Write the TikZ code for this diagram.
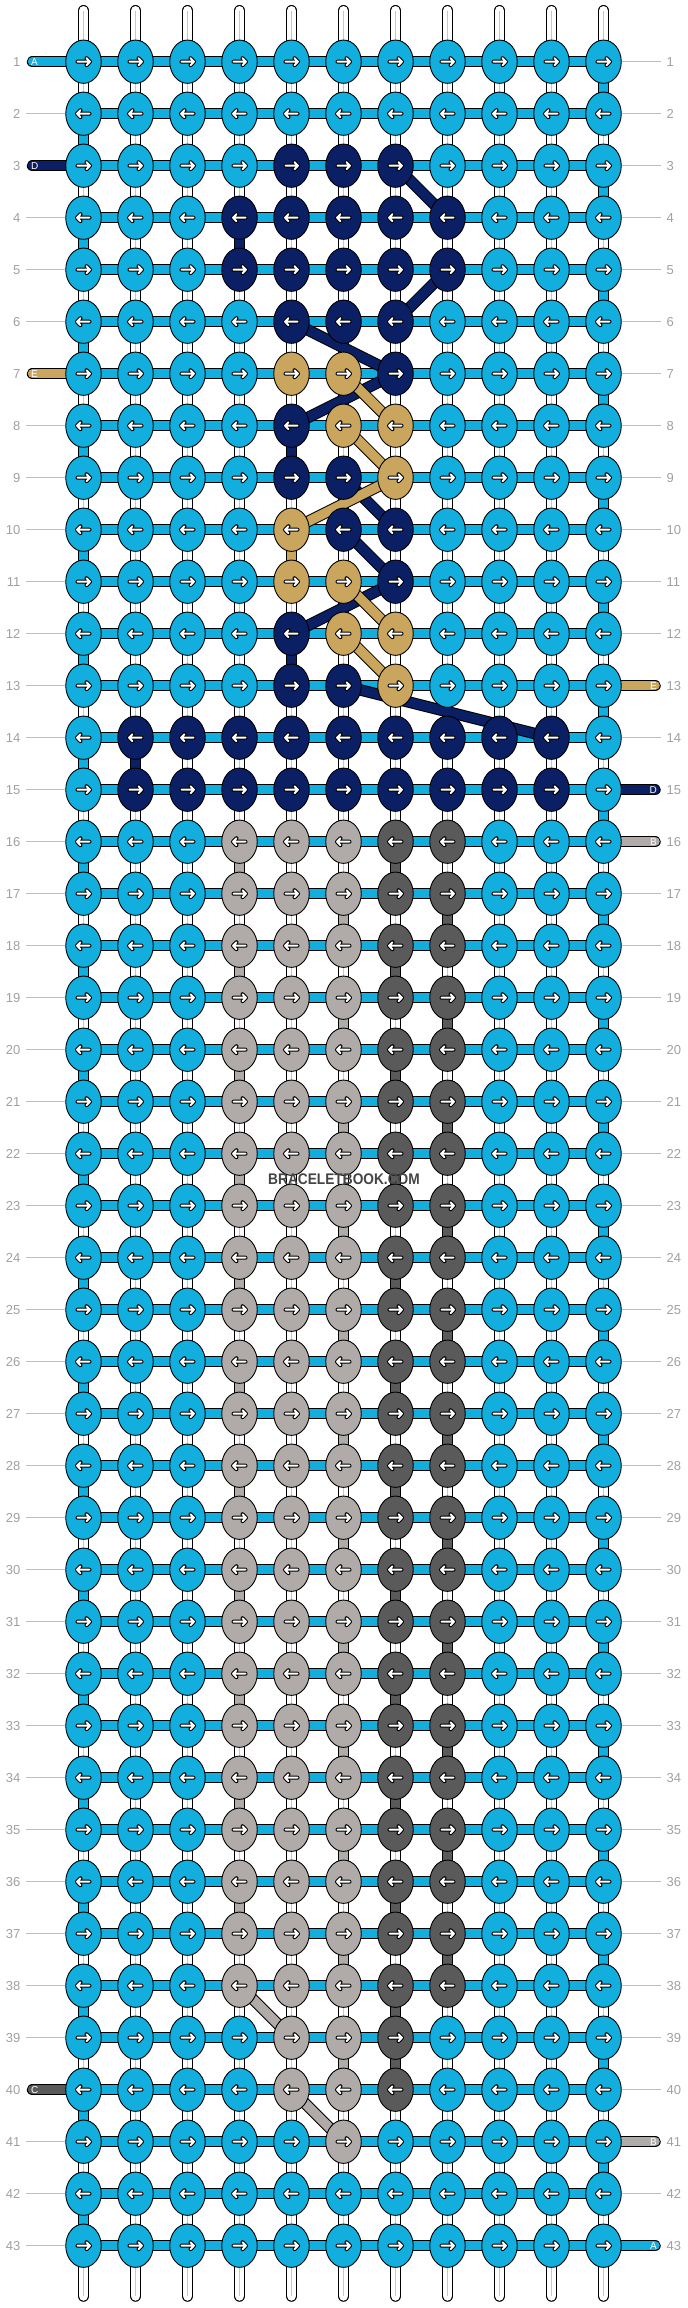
\documentclass[tikz,border=0pt]{standalone}
\usepackage{fontspec}
\setmainfont{Liberation Sans}
\usetikzlibrary{shapes.geometric,backgrounds}

\definecolor{colA}{RGB}{18,174,221}
\definecolor{colB}{RGB}{176,170,168}
\definecolor{colC}{RGB}{90,90,90}
\definecolor{colD}{RGB}{11,31,101}
\definecolor{colE}{RGB}{201,165,94}
\definecolor{numgray}{RGB}{160,160,160}
\definecolor{guidegray}{RGB}{190,190,190}
\definecolor{markgray}{RGB}{68,68,68}

\tikzset{
  knot/.style={ellipse, draw=black, line width=0.9pt, minimum width=35.5pt, minimum height=43.3pt, inner sep=0pt},
  tube/.style={draw=black, line width=1pt, double=#1, double distance=9.5pt},
  warp/.style={tube=white, line cap=round},
  seam/.style={black!22, line width=0.7pt},
  guide/.style={guidegray, line width=0.8pt},
  rownum/.style={text=numgray, inner sep=0pt, font=\fontsize{13}{13}\selectfont},
  tag/.style={text=white, inner sep=0pt, font=\fontsize{10}{10}\selectfont},
  pics/tick/.style={code={
    \draw[black, line width=4pt, line cap=round, line join=round]
      ({-6*(#1)},0) -- ({6.5*(#1)},0) ({3*(#1)},3.5) -- ({6.5*(#1)},0) -- ({3*(#1)},-3.5);
    \draw[white, line width=2pt, line cap=round, line join=round]
      ({-6*(#1)},0) -- ({6.5*(#1)},0) ({3*(#1)},3.5) -- ({6.5*(#1)},0) -- ({3*(#1)},-3.5);
  }}
}

% one row of knots: row number, colours of the 11 knots
\newcommand{\knotrow}[2]{%
  \pgfmathtruncatemacro{\knotdir}{1-2*mod(#1+1,2)}%
  \foreach \k [count=\c] in {#2} {
    \node[knot, fill=col\k] (k-#1-\c) at ({83.5+52*(\c-1)}, {61.7+52*(#1-1)}) {};
    \pic at (k-#1-\c) {tick=\knotdir};
  }%
}

\begin{document}
\begin{tikzpicture}[x=1pt, y=-1pt]
\useasboundingbox (0,0) rectangle (688,2308);

% knots
\knotrow{1}{A,A,A,A,A,A,A,A,A,A,A}
\knotrow{2}{A,A,A,A,A,A,A,A,A,A,A}
\knotrow{3}{A,A,A,A,D,D,D,A,A,A,A}
\knotrow{4}{A,A,A,D,D,D,D,D,A,A,A}
\knotrow{5}{A,A,A,D,D,D,D,D,A,A,A}
\knotrow{6}{A,A,A,A,D,D,D,A,A,A,A}
\knotrow{7}{A,A,A,A,E,E,D,A,A,A,A}
\knotrow{8}{A,A,A,A,D,E,E,A,A,A,A}
\knotrow{9}{A,A,A,A,D,D,E,A,A,A,A}
\knotrow{10}{A,A,A,A,E,D,D,A,A,A,A}
\knotrow{11}{A,A,A,A,E,E,D,A,A,A,A}
\knotrow{12}{A,A,A,A,D,E,E,A,A,A,A}
\knotrow{13}{A,A,A,A,D,D,E,A,A,A,A}
\knotrow{14}{A,D,D,D,D,D,D,D,D,D,A}
\knotrow{15}{A,D,D,D,D,D,D,D,D,D,A}
\foreach \r in {16,...,38} {\knotrow{\r}{A,A,A,B,B,B,C,C,A,A,A}}
\knotrow{39}{A,A,A,A,B,B,C,A,A,A,A}
\knotrow{40}{A,A,A,A,B,B,C,A,A,A,A}
\knotrow{41}{A,A,A,A,A,B,A,A,A,A,A}
\knotrow{42}{A,A,A,A,A,A,A,A,A,A,A}
\knotrow{43}{A,A,A,A,A,A,A,A,A,A,A}

% loose ends
\foreach \c in {1,...,11} {
  \coordinate (t-\c) at ({83.5+52*(\c-1)}, 10.75);
  \coordinate (b-\c) at ({83.5+52*(\c-1)}, 2296);
}
\foreach \r in {1,3,7,40} \coordinate (sl-\r) at (32.5, {61.7+52*(\r-1)});
\foreach \r in {13,15,16,41,43} \coordinate (sr-\r) at (655, {61.7+52*(\r-1)});

\begin{scope}[on background layer]
  % warp strands
  \foreach \c in {1,...,11} {
    \draw[warp] (t-\c) -- (b-\c);
    \draw[seam] (t-\c) -- (b-\c);
  }
  % rows
  \foreach \r in {1,...,43} \draw[tube=colA] (k-\r-1.center) -- (k-\r-11.center);
  % A turns at the edges
  \foreach \r [evaluate=\r as \s using int(\r+1)] in {1,3,...,41}
    \draw[tube=colA] (k-\r-11.center) -- (k-\s-11.center);
  \foreach \r [evaluate=\r as \s using int(\r+1)] in {2,4,...,42}
    \draw[tube=colA] (k-\r-1.center) -- (k-\s-1.center);
  % B and C blocks
  \foreach \r [evaluate=\r as \s using int(\r+1)] in {16,18,...,36} {
    \draw[tube=colB] (k-\r-4.center) -- (k-\s-4.center);
    \draw[tube=colC] (k-\r-7.center) -- (k-\s-7.center);
  }
  \foreach \r [evaluate=\r as \s using int(\r+1)] in {17,19,...,37} {
    \draw[tube=colB] (k-\r-6.center) -- (k-\s-6.center);
    \draw[tube=colC] (k-\r-8.center) -- (k-\s-8.center);
  }
  % drops and diagonals
  \foreach \hue/\ra/\ca/\rb/\cb in {D/4/4/5/4, D/8/5/9/5, E/10/5/11/5, D/12/5/13/5, D/14/2/15/2,
      C/38/7/39/7, B/39/6/40/6, C/39/7/40/7,
      D/3/7/4/8, D/5/8/6/7, D/6/5/7/7, D/7/7/8/5, D/9/6/10/7, D/10/6/11/7, D/11/7/12/5, D/13/6/14/10,
      E/7/6/8/7, E/8/6/9/7, E/9/7/10/5, E/11/6/12/7, E/12/6/13/7,
      B/38/4/39/5, B/40/5/41/6}
    \draw[tube=col\hue] (k-\ra-\ca.center) -- (k-\rb-\cb.center);
  % strands in and out at the sides
  \foreach \r/\hue in {1/A,3/D,7/E,40/C}
    \draw[tube=col\hue, line cap=round] (sl-\r) -- (k-\r-1.center);
  \foreach \r/\hue in {13/E,15/D,16/B,41/B,43/A}
    \draw[tube=col\hue, line cap=round] (sr-\r) -- (k-\r-11.center);
\end{scope}

% row numbers
\foreach \r in {1,...,43} {
  \node[rownum, anchor=east] (nl-\r) at (20.5, {61.7+52*(\r-1)}) {\r};
  \node[rownum, anchor=west] (nr-\r) at (666.5, {61.7+52*(\r-1)}) {\r};
  \pgfmathtruncatemacro{\lend}{(\r==1)||(\r==3)||(\r==7)||(\r==40)}
  \pgfmathtruncatemacro{\rend}{(\r==13)||(\r==15)||(\r==16)||(\r==41)||(\r==43)}
  \ifnum\lend=0 \draw[guide] ([xshift=5.5pt]nl-\r.east) -- (k-\r-1.west); \fi
  \ifnum\rend=0 \draw[guide] (k-\r-11.east) -- ([xshift=-5.5pt]nr-\r.west); \fi
}
\foreach \r/\tg in {1/A,3/D,7/E,40/C}
  \node[tag, anchor=west] (tl-\r) at ([xshift=-1.5pt]sl-\r) {\tg};
\foreach \r/\tg in {13/E,15/D,16/B,41/B,43/A}
  \node[tag, anchor=east] (tr-\r) at ([xshift=2pt]sr-\r) {\tg};

\node[text=markgray, inner sep=0pt, font=\bfseries\fontsize{15.4}{16}\selectfont] (mark) at (344,1179.5)
  {\scalebox{0.89}[1]{BRACELETBOOK.COM}};
\end{tikzpicture}
\end{document}
